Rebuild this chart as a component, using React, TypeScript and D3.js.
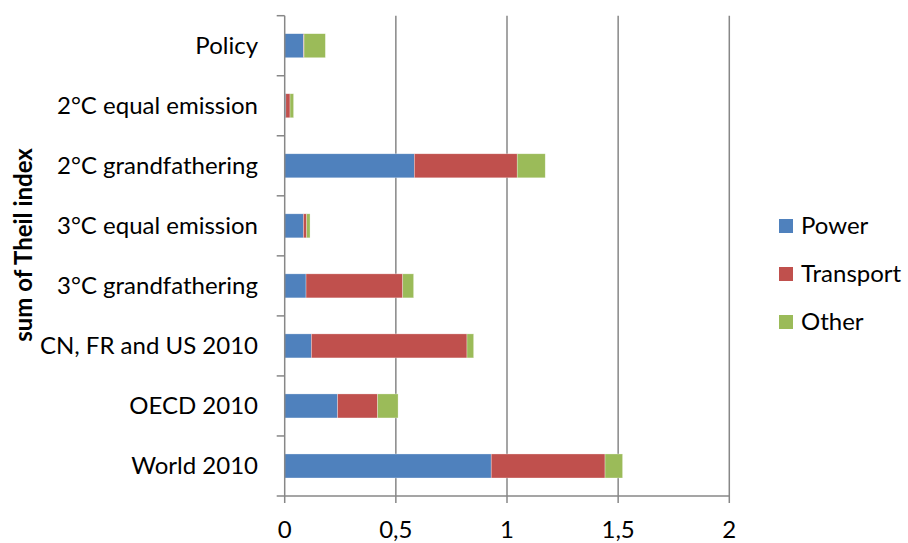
import * as d3 from 'd3';
import { useMemo } from 'react';

const categories = [
  'Policy',
  '2°C equal emission',
  '2°C grandfathering',
  '3°C equal emission',
  '3°C grandfathering',
  'CN, FR and US 2010',
  'OECD 2010',
  'World 2010',
];
const power = [0.085, 0.005, 0.583, 0.084, 0.096, 0.12, 0.238, 0.929];
const transport = [0.002, 0.019, 0.463, 0.015, 0.435, 0.7, 0.18, 0.512];
const other = [0.096, 0.016, 0.126, 0.015, 0.049, 0.03, 0.092, 0.079];
const seriesNames = ['Power', 'Transport', 'Other'];
const colors = ['#4F81BD', '#C0504D', '#9BBB59'];
const xTicks = [0, 0.5, 1, 1.5, 2];

const W = 908;
const H = 543;
const FONT = 'Lato, "Open Sans", sans-serif';
const FS = 24;

export default function App() {
  const left = 284.7;
  const right = 729.3;
  const top = 15.7;
  const bottom = 496;

  const x = useMemo(() => d3.scaleLinear().domain([0, 2]).range([left, right]), []);
  const y = useMemo(
    () => d3.scaleBand().domain(categories).range([top, bottom]).paddingInner(0.6).paddingOuter(0.3),
    []
  );

  const stacked = useMemo(() => {
    const rows = categories.map((c, i) => ({
      cat: c,
      Power: power[i],
      Transport: transport[i],
      Other: other[i],
    }));
    return d3.stack<any>().keys(seriesNames)(rows);
  }, []);

  const step = (bottom - top) / categories.length;
  const fmt = (v: number) => String(v).replace('.', ',');

  return (
    <div style={{ position: 'absolute', left: 0, top: 0 }}>
      <svg width={W} height={H} style={{ display: 'block', background: '#fff' }} fontFamily={FONT}>
        {/* vertical gridlines */}
        {xTicks.slice(1).map((t) => (
          <line key={t} x1={x(t)} x2={x(t)} y1={top} y2={bottom + 7} stroke="#878787" strokeWidth={1.5} />
        ))}
        {/* bars */}
        {stacked.map((s, si) => (
          <g key={s.key} fill={colors[si]}>
            {s.map((d, i) => (
              <rect
                key={i}
                x={x(d[0])}
                y={y(categories[i])}
                width={Math.max(0, x(d[1]) - x(d[0]))}
                height={y.bandwidth()}
                stroke="#fff"
                strokeOpacity={0.5}
                strokeWidth={0.6}
              />
            ))}
          </g>
        ))}
        {/* axes */}
        <line x1={left} x2={left} y1={top} y2={bottom} stroke="#878787" strokeWidth={1.5} />
        <line x1={left} x2={right} y1={bottom} y2={bottom} stroke="#878787" strokeWidth={1.5} />
        {d3.range(categories.length + 1).map((i) => (
          <line key={i} x1={left - 8} x2={left} y1={top + i * step} y2={top + i * step} stroke="#878787" strokeWidth={1.5} />
        ))}
        <line x1={left} x2={left} y1={bottom} y2={bottom + 7} stroke="#878787" strokeWidth={1.5} />
        {/* x tick labels */}
        {xTicks.map((t) => (
          <text key={t} x={x(t)} y={538} textAnchor="middle" fontSize={FS} fill="#000">
            {fmt(t)}
          </text>
        ))}
        {/* category labels */}
        {categories.map((c) => (
          <text
            key={c}
            x={258}
            y={(y(c) ?? 0) + y.bandwidth() / 2}
            dy="0.35em"
            textAnchor="end"
            fontSize={FS}
            fill="#000"
          >
            {c}
          </text>
        ))}
        {/* y axis title */}
        <text
          transform={`translate(32,245) rotate(-90)`}
          textAnchor="middle"
          fontSize={24}
          fontWeight="bold"
          fill="#000"
        >
          sum of Theil index
        </text>
        {/* legend */}
        {seriesNames.map((n, i) => (
          <g key={n} transform={`translate(779,${219 + i * 48})`}>
            <rect width={14} height={14} fill={colors[i]} />
            <text x={22} y={7} dy="0.35em" fontSize={FS} fill="#000">
              {n}
            </text>
          </g>
        ))}
      </svg>
    </div>
  );
}
